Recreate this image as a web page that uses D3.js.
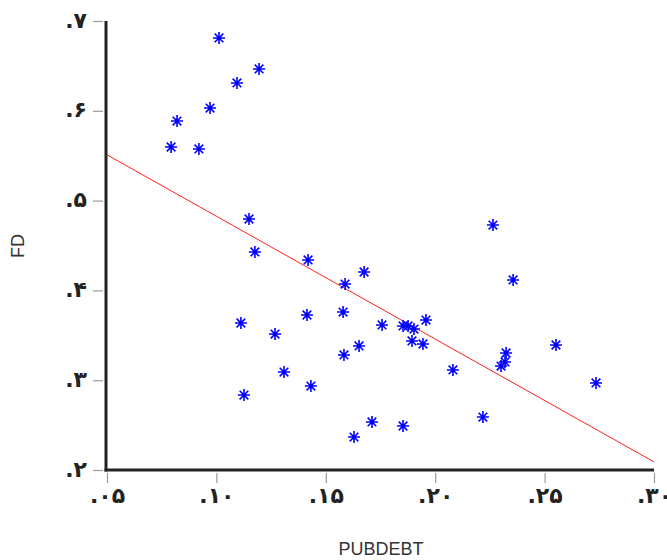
<!DOCTYPE html>
<html>
<head>
<meta charset="utf-8">
<script src="https://cdnjs.cloudflare.com/ajax/libs/d3/7.8.5/d3.min.js"></script>
<style>
  body { margin: 0; background: #fff; }
  svg { display: block; }
  .tick-label { font-family: "DejaVu Sans", sans-serif; font-weight: bold; font-size: 22px; fill: #222; }
  .axis-title { font-family: "Liberation Sans", Arial, sans-serif; font-size: 18px; fill: #333; }
</style>
</head>
<body>
<div id="chart"></div>
<script>
// scatter points (PUBDEBT, FD)
const pubdebt = [0.1012, 0.1195, 0.1094, 0.0971, 0.0820, 0.0793, 0.0920, 0.1149, 0.1176, 0.1419,
                 0.1675, 0.1588, 0.2264, 0.2356, 0.1112, 0.1414, 0.1579, 0.1268, 0.1757, 0.1853,
                 0.1876, 0.1903, 0.1958, 0.1894, 0.1944, 0.1652, 0.1583, 0.2081, 0.1309, 0.1432,
                 0.1126, 0.1711, 0.1853, 0.1629, 0.2552, 0.2324, 0.2319, 0.2301, 0.2735, 0.2218];
const fd      = [0.6811, 0.6466, 0.6310, 0.6031, 0.5886, 0.5597, 0.5575, 0.4795, 0.4428, 0.4339,
                 0.4205, 0.4071, 0.4728, 0.4116, 0.3637, 0.3726, 0.3759, 0.3514, 0.3615, 0.3604,
                 0.3604, 0.3570, 0.3670, 0.3437, 0.3403, 0.3381, 0.3281, 0.3114, 0.3091, 0.2935,
                 0.2835, 0.2535, 0.2490, 0.2367, 0.3392, 0.3303, 0.3203, 0.3158, 0.2969, 0.2590];

// fitted line, end points
const fitX = [0.05, 0.30];
const fitY = [0.551, 0.209];

// ticks and their labels (Persian digits)
const xTicks = [0.05, 0.10, 0.15, 0.20, 0.25, 0.30];
const xTickLabels = [".۰۵", ".۱۰", ".۱۵", ".۲۰", ".۲۵", ".۳۰"];
const yTicks = [0.2, 0.3, 0.4, 0.5, 0.6, 0.7];
const yTickLabels = [".۲", ".۳", ".۴", ".۵", ".۶", ".۷"];

const w = 667;
const h = 560;

const xScale = d3.scaleLinear()
                .domain([0.05, 0.30])
                .range([107, 654]);

const yScale = d3.scaleLinear()
                .domain([0.2, 0.7])
                .range([470, 21]);

const svg = d3.select("#chart")
                .append("svg")
                .attr("width", w)
                .attr("height", h);

// y axis
const yAxis = d3.axisLeft(yScale)
                .tickValues(yTicks)
                .tickSize(10)
                .tickPadding(6)
                .tickFormat((d, i) => yTickLabels[i]);

const gy = svg.append("g")
    .attr("transform", "translate(103,0)")
    .call(yAxis);
gy.select(".domain").remove();
gy.selectAll(".tick line").attr("stroke", "#999").attr("stroke-width", 1.2);
gy.selectAll(".tick text").attr("class", "tick-label").attr("direction", "ltr").attr("dy", "0.28em");

// x axis
const xAxis = d3.axisBottom(xScale)
                .tickValues(xTicks)
                .tickSize(10)
                .tickPadding(4)
                .tickFormat((d, i) => xTickLabels[i]);

const gx = svg.append("g")
    .attr("transform", "translate(0,473)")
    .call(xAxis);
gx.select(".domain").remove();
gx.selectAll(".tick line").attr("stroke", "#999").attr("stroke-width", 1.2);
gx.selectAll(".tick text").attr("class", "tick-label").attr("direction", "ltr");

// axis lines
svg.append("line")
    .attr("x1", xScale(0.05) - 1).attr("x2", xScale(0.05) - 1)
    .attr("y1", yScale(0.7)).attr("y2", yScale(0.2) + 1.5)
    .attr("stroke", "#222").attr("stroke-width", 3);

svg.append("line")
    .attr("x1", xScale(0.05) - 2.5).attr("x2", xScale(0.30))
    .attr("y1", yScale(0.2)).attr("y2", yScale(0.2))
    .attr("stroke", "#222").attr("stroke-width", 3);

// fitted line
svg.append("line")
    .attr("x1", xScale(fitX[0])).attr("y1", yScale(fitY[0]))
    .attr("x2", xScale(fitX[1])).attr("y2", yScale(fitY[1]))
    .attr("stroke", "#ff2020").attr("stroke-width", 1);

// asterisk markers
const r = 6;
const d8 = r * 0.72;
const star = `M${-r},0L${r},0M0,${-r}L0,${r}M${-d8},${-d8}L${d8},${d8}M${-d8},${d8}L${d8},${-d8}`;

svg.selectAll("path.pt")
    .data(pubdebt)
    .enter()
    .append("path")
    .attr("class", "pt")
    .attr("d", star)
    .attr("transform", (d, i) => "translate(" + xScale(d) + "," + yScale(fd[i]) + ")")
    .attr("stroke", "#0000ff")
    .attr("stroke-width", 1.6)
    .attr("fill", "none");

// axis titles
svg.append("text")
    .text("FD")
    .attr("class", "axis-title")
    .style("text-anchor", "middle")
    .attr("transform", "translate(24,246) rotate(-90)");

svg.append("text")
    .text("PUBDEBT")
    .attr("class", "axis-title")
    .style("text-anchor", "middle")
    .attr("x", 381)
    .attr("y", 555);
</script>
</body>
</html>
